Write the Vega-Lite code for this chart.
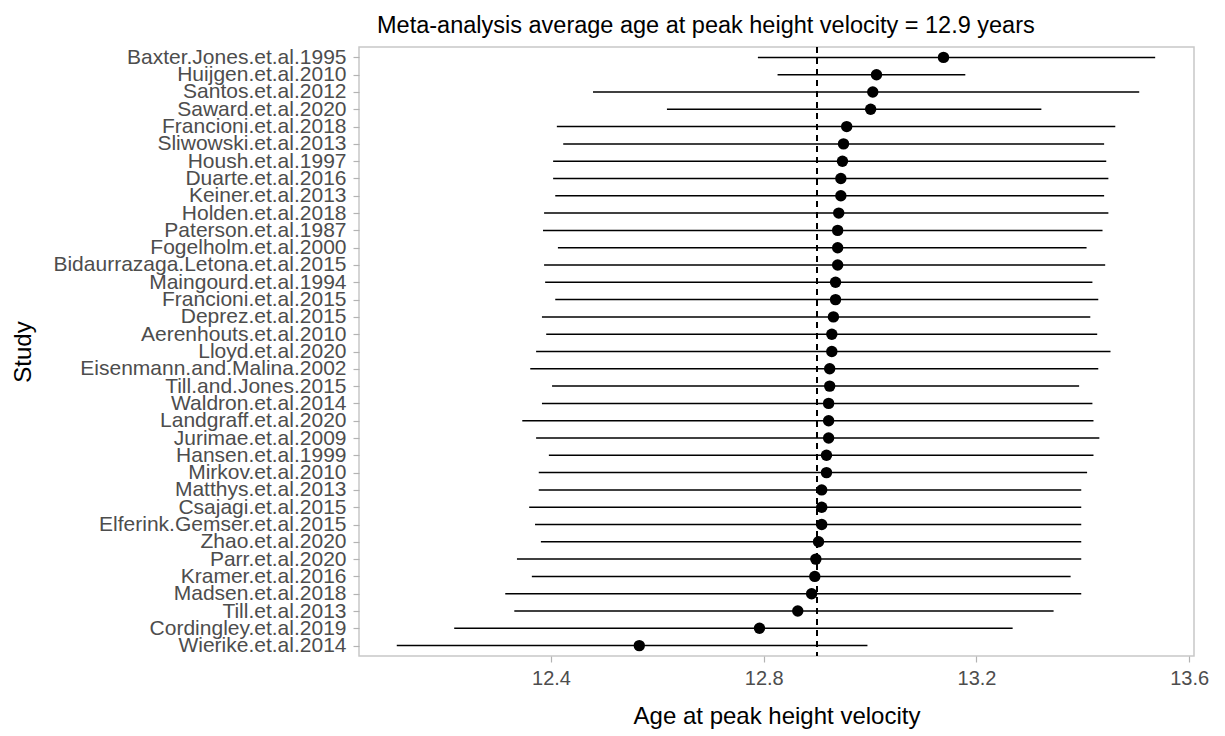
{
  "$schema": "https://vega.github.io/schema/vega-lite/v6.json",
  "autosize": {"type": "none"},
  "padding": {"left": 359, "top": 47, "right": 31, "bottom": 80},
  "width": 835,
  "height": 609,
  "background": "white",
  "config": {
    "font": "Liberation Sans",
    "view": {"stroke": "#C8C8C8", "strokeWidth": 1.5}
  },
  "title": {
    "text": "Meta-analysis average age at peak height velocity = 12.9 years",
    "anchor": "start",
    "frame": "group",
    "dx": 18,
    "offset": 9,
    "fontSize": 23.5,
    "fontWeight": "normal",
    "color": "#000000",
    "font": "Liberation Sans"
  },
  "data": {
    "values": [
      {"study": "Baxter.Jones.et.al.1995", "est": 13.138, "lo": 12.789, "hi": 13.536},
      {"study": "Huijgen.et.al.2010", "est": 13.012, "lo": 12.826, "hi": 13.179},
      {"study": "Santos.et.al.2012", "est": 13.005, "lo": 12.479, "hi": 13.506},
      {"study": "Saward.et.al.2020", "est": 13.001, "lo": 12.618, "hi": 13.322},
      {"study": "Francioni.et.al.2018", "est": 12.956, "lo": 12.411, "hi": 13.461},
      {"study": "Sliwowski.et.al.2013", "est": 12.95, "lo": 12.423, "hi": 13.44},
      {"study": "Housh.et.al.1997", "est": 12.948, "lo": 12.404, "hi": 13.444},
      {"study": "Duarte.et.al.2016", "est": 12.945, "lo": 12.404, "hi": 13.448},
      {"study": "Keiner.et.al.2013", "est": 12.945, "lo": 12.408, "hi": 13.44},
      {"study": "Holden.et.al.2018", "est": 12.941, "lo": 12.387, "hi": 13.448},
      {"study": "Paterson.et.al.1987", "est": 12.939, "lo": 12.385, "hi": 13.437},
      {"study": "Fogelholm.et.al.2000", "est": 12.939, "lo": 12.413, "hi": 13.407},
      {"study": "Bidaurrazaga.Letona.et.al.2015", "est": 12.939, "lo": 12.387, "hi": 13.442},
      {"study": "Maingourd.et.al.1994", "est": 12.935, "lo": 12.389, "hi": 13.418},
      {"study": "Francioni.et.al.2015", "est": 12.935, "lo": 12.408, "hi": 13.429},
      {"study": "Deprez.et.al.2015", "est": 12.931, "lo": 12.383, "hi": 13.414},
      {"study": "Aerenhouts.et.al.2010", "est": 12.928, "lo": 12.391, "hi": 13.427},
      {"study": "Lloyd.et.al.2020", "est": 12.928, "lo": 12.372, "hi": 13.452},
      {"study": "Eisenmann.and.Malina.2002", "est": 12.924, "lo": 12.361, "hi": 13.429},
      {"study": "Till.and.Jones.2015", "est": 12.924, "lo": 12.402, "hi": 13.393},
      {"study": "Waldron.et.al.2014", "est": 12.922, "lo": 12.383, "hi": 13.418},
      {"study": "Landgraff.et.al.2020", "est": 12.922, "lo": 12.346, "hi": 13.42},
      {"study": "Jurimae.et.al.2009", "est": 12.922, "lo": 12.372, "hi": 13.431},
      {"study": "Hansen.et.al.1999", "est": 12.918, "lo": 12.396, "hi": 13.42},
      {"study": "Mirkov.et.al.2010", "est": 12.918, "lo": 12.377, "hi": 13.408},
      {"study": "Matthys.et.al.2013", "est": 12.909, "lo": 12.377, "hi": 13.397},
      {"study": "Csajagi.et.al.2015", "est": 12.909, "lo": 12.359, "hi": 13.397},
      {"study": "Elferink.Gemser.et.al.2015", "est": 12.909, "lo": 12.37, "hi": 13.397},
      {"study": "Zhao.et.al.2020", "est": 12.903, "lo": 12.381, "hi": 13.397},
      {"study": "Parr.et.al.2020", "est": 12.898, "lo": 12.336, "hi": 13.397},
      {"study": "Kramer.et.al.2016", "est": 12.896, "lo": 12.364, "hi": 13.377},
      {"study": "Madsen.et.al.2018", "est": 12.89, "lo": 12.314, "hi": 13.397},
      {"study": "Till.et.al.2013", "est": 12.864, "lo": 12.331, "hi": 13.345},
      {"study": "Cordingley.et.al.2019", "est": 12.792, "lo": 12.218, "hi": 13.268},
      {"study": "Wierike.et.al.2014", "est": 12.566, "lo": 12.11, "hi": 12.995}
    ]
  },
  "encoding": {
    "y": {
      "field": "study",
      "type": "nominal",
      "sort": null,
      "scale": {"type": "point", "padding": 0.6},
      "axis": {
        "title": "Study",
        "titleFontSize": 24,
        "titleFontWeight": "normal",
        "titleColor": "#000000",
        "titleX": -336,
        "titleY": 304.5,
        "titleAngle": -90,
        "titleAlign": "center",
        "titleBaseline": "middle",
        "labelFontSize": 21,
        "labelLimit": 0,
        "labelColor": "#4D4D4D",
        "labelPadding": 7,
        "tickColor": "#B3B3B3",
        "tickSize": 6,
        "tickWidth": 1.2,
        "domain": false,
        "grid": false,
        "labelOverlap": false,
        "labelBaseline": "middle"
      }
    }
  },
  "layer": [
    {
      "mark": {"type": "rule", "color": "#000000", "strokeWidth": 1.5},
      "encoding": {
        "x": {
          "field": "lo",
          "type": "quantitative",
          "scale": {"domain": [12.039, 13.609], "nice": false, "zero": false},
          "axis": {
            "title": "Age at peak height velocity",
            "titleFontSize": 24,
            "titleFontWeight": "normal",
            "titleColor": "#000000",
            "titlePadding": 16,
            "values": [12.4, 12.8, 13.2, 13.6],
            "format": ".1f",
            "labelFontSize": 20,
            "labelColor": "#4D4D4D",
            "labelPadding": 6,
            "tickColor": "#B3B3B3",
            "tickSize": 6,
            "tickWidth": 1.2,
            "domain": false,
            "grid": false
          }
        },
        "x2": {"field": "hi"}
      }
    },
    {
      "mark": {"type": "point", "filled": true, "color": "#000000", "size": 130, "opacity": 1, "shape": "circle"},
      "encoding": {
        "x": {"field": "est", "type": "quantitative"}
      }
    },
    {
      "mark": {"type": "rule", "color": "#000000", "strokeWidth": 1.5, "strokeDash": [6, 5]},
      "encoding": {
        "x": {"datum": 12.9},
        "y": {"value": 0},
        "y2": {"value": 609}
      }
    }
  ]
}
